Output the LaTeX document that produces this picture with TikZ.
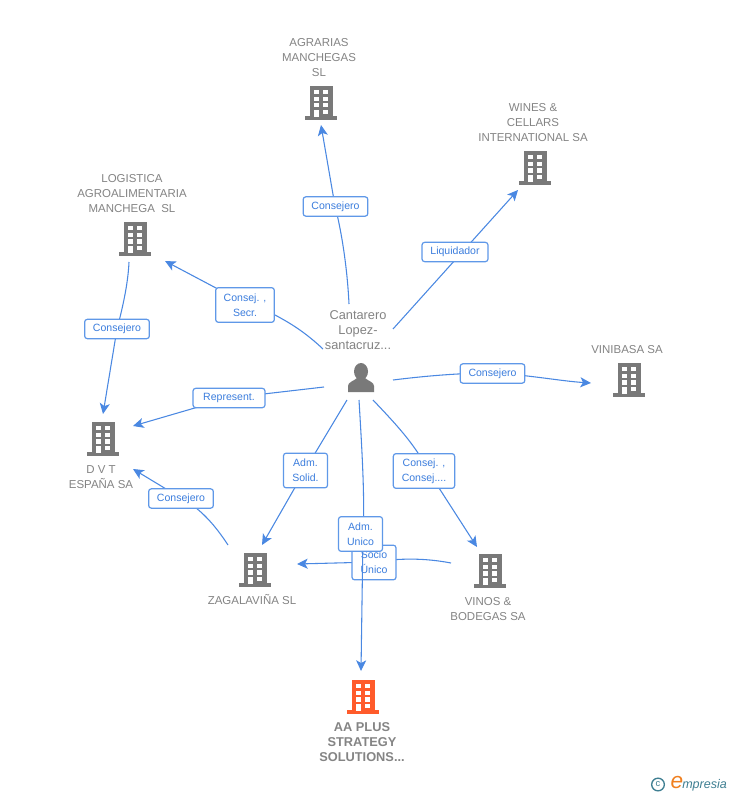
\documentclass[tikz,border=0pt]{standalone}
\usepackage{fontspec}
\setmainfont{Liberation Sans}
\usetikzlibrary{arrows.meta}
\definecolor{edgeblue}{HTML}{4A88E2}
\definecolor{boxblue}{HTML}{5F98E8}
\definecolor{lblblue}{HTML}{3B7DDD}
\definecolor{icongrey}{HTML}{797979}
\definecolor{txtgrey}{HTML}{848484}
\definecolor{hot}{HTML}{FF5B2B}
\definecolor{teal}{HTML}{3F7F92}
\definecolor{logoor}{HTML}{F08020}
\tikzset{
  x=0.75pt,y=-0.75pt,
  conn/.style={draw=edgeblue,line width=0.8pt},
  arr/.style={conn,-{Stealth[length=8pt,width=7.5pt,inset=2pt]}},
  lbl/.style={draw=boxblue,line width=0.9pt,fill=white,rounded corners=2pt,text=lblblue,font=\fontsize{7.9}{11.2}\selectfont,align=center,inner sep=0pt},
  name text/.style={text=txtgrey,font=\fontsize{8.6}{11.2}\selectfont,align=center,inner sep=0pt},
  person text/.style={text=txtgrey,font=\fontsize{9.6}{11.2}\selectfont,align=center,inner sep=0pt},
  bold text/.style={text=txtgrey,font=\fontsize{9.6}{11.2}\selectfont\bfseries,align=center,inner sep=0pt}
}
\newcommand{\bldg}[4][icongrey]{%
  \coordinate (#2) at (#3,#4);
  \begin{scope}[shift={(#3,#4)}]
    \fill[#1] (-11.5,-17) rectangle (11.5,14);
    \fill[#1] (-16,13) rectangle (16,17);
    \foreach \yy in {-13,-6.3,0.3} {
      \fill[white] (-7,\yy) rectangle (-2,{\yy+4.2});
      \fill[white] (2,\yy) rectangle (7,{\yy+4.2});
    }
    \fill[white] (-7,7) rectangle (-2,14);
    \fill[white] (2,7) rectangle (7,11.2);
  \end{scope}}
\begin{document}
\begin{tikzpicture}
\useasboundingbox (0,0) rectangle (728,795);
\fill[white] (0,0) rectangle (728,795);
% free connector ends
\coordinate (a0) at (349,304); \coordinate (a1) at (321,125);
\coordinate (w0) at (393,329); \coordinate (w1) at (518,190);
\coordinate (l0) at (323,349); \coordinate (l1) at (165,261);
\coordinate (ld0) at (129,262); \coordinate (ld1) at (103,414);
\coordinate (v0) at (393,380); \coordinate (v1) at (591,383);
\coordinate (r0) at (324,387); \coordinate (r1) at (133,426);
\coordinate (s0) at (347,400); \coordinate (s1) at (262,545);
\coordinate (c0) at (373,400); \coordinate (c1) at (477,547);
\coordinate (z0) at (228,545); \coordinate (z1) at (133,469);
\coordinate (u0) at (359,400); \coordinate (u1) at (361,671);
\coordinate (so0) at (451,563); \coordinate (so1) at (297,564);
% connectors
\draw[arr] (a0) .. controls (347,262) and (340,225) .. (335,206) -- (a1);
\draw[arr] (w0) -- (w1);
\draw[arr] (l0) .. controls (305,332) and (290,323) .. (275,315) -- (216,288) -- (l1);
\draw[arr] (ld0) .. controls (128,285) and (122,310) .. (117,329) -- (ld1);
\draw[arr] (v0) .. controls (425,376) and (460,373) .. (492,373) .. controls (530,375) and (560,381) .. (v1);
\draw[arr] (r0) -- (229,398) -- (r1);
\draw[arr] (s0) -- (305,470) -- (s1);
\draw[arr] (c0) .. controls (392,420) and (406,435) .. (418,453) -- (439,488) -- (c1);
\draw[arr] (z0) .. controls (215,525) and (200,508) .. (181,498) -- (z1);
\draw[arr] (so0) .. controls (425,558) and (400,558) .. (374,562) -- (so1);
% label under the long line
\node[lbl,minimum width=33pt,minimum height=26pt] (ls) at (374,562.5) {Socio\\Único};
% long connector over the Socio box
\draw[arr] (u0) .. controls (362,450) and (365,500) .. (363,534) -- (u1);
% labels
\node[lbl,minimum width=48.5pt,minimum height=14.5pt] (la) at (335.5,206.5) {Consejero};
\node[lbl,minimum width=49.5pt,minimum height=14.5pt] (lw) at (455,252) {Liquidador};
\node[lbl,minimum width=44pt,minimum height=26pt] (ll) at (245,305) {Consej. ,\\Secr.};
\node[lbl,minimum width=48.5pt,minimum height=14.5pt] (lld) at (117,329) {Consejero};
\node[lbl,minimum width=48.5pt,minimum height=14.5pt] (lv) at (492.5,373.5) {Consejero};
\node[lbl,minimum width=54pt,minimum height=14.5pt] (lr) at (229,398) {Represent.};
\node[lbl,minimum width=33pt,minimum height=26pt] (lso) at (305.5,470.5) {Adm.\\Solid.};
\node[lbl,minimum width=46pt,minimum height=26pt] (lc) at (424,471) {Consej. ,\\Consej....};
\node[lbl,minimum width=48.5pt,minimum height=14.5pt] (lz) at (181,498.5) {Consejero};
\node[lbl,minimum width=33pt,minimum height=26pt] (lu) at (360.5,534) {Adm.\\Unico};
% buildings
\bldg{ba}{321}{103}
\bldg{bw}{535}{168}
\bldg{bl}{135}{239}
\bldg{bv}{629}{380}
\bldg{bd}{103}{439}
\bldg{bz}{255}{570}
\bldg{bb}{490}{571}
\bldg[hot]{bp}{363}{697}
% person
\fill[icongrey] (361,371.5) ellipse (7 and 8.5);
\fill[icongrey] (348,392) -- (348,386) .. controls (348,382) and (354,381) .. (357,378) -- (365,378) .. controls (368,381) and (374,382) .. (374,386) -- (374,392) -- cycle;
% name texts
\node[name text] (ta) at (319,57.5) {AGRARIAS\\MANCHEGAS\\SL};
\node[name text] (tw) at (533,122.5) {WINES \&\\CELLARS\\INTERNATIONAL SA};
\node[name text] (tl) at (132,193.5) {LOGISTICA\\AGROALIMENTARIA\\MANCHEGA\ \ SL};
\node[name text] (tv) at (627,349.5) {VINIBASA SA};
\node[name text] (td) at (101,477) {D V T\\ESPAÑA SA};
\node[name text] (tz) at (252,599.5) {ZAGALAVIÑA SL};
\node[name text] (tb) at (488,609) {VINOS \&\\BODEGAS SA};
\node[person text] (tc) at (358,330.5) {Cantarero\\Lopez-\\santacruz...};
\node[bold text] (tp) at (362,742) {AA PLUS\\STRATEGY\\SOLUTIONS...};
% logo
\node[draw=teal,circle,line width=1pt,minimum size=9.5pt,inner sep=0pt,text=teal,font=\fontsize{7}{8}\selectfont] (lg0) at (658,784.5) {c};
\node[text=logoor,font=\fontsize{17}{15}\selectfont\itshape,inner sep=0pt] (lg1) at (677,783) {e};
\node[text=teal,font=\fontsize{9.4}{12}\selectfont\itshape,inner sep=0pt,anchor=west] (lg2) at (682,785) {mpresia};
\end{tikzpicture}
\end{document}
